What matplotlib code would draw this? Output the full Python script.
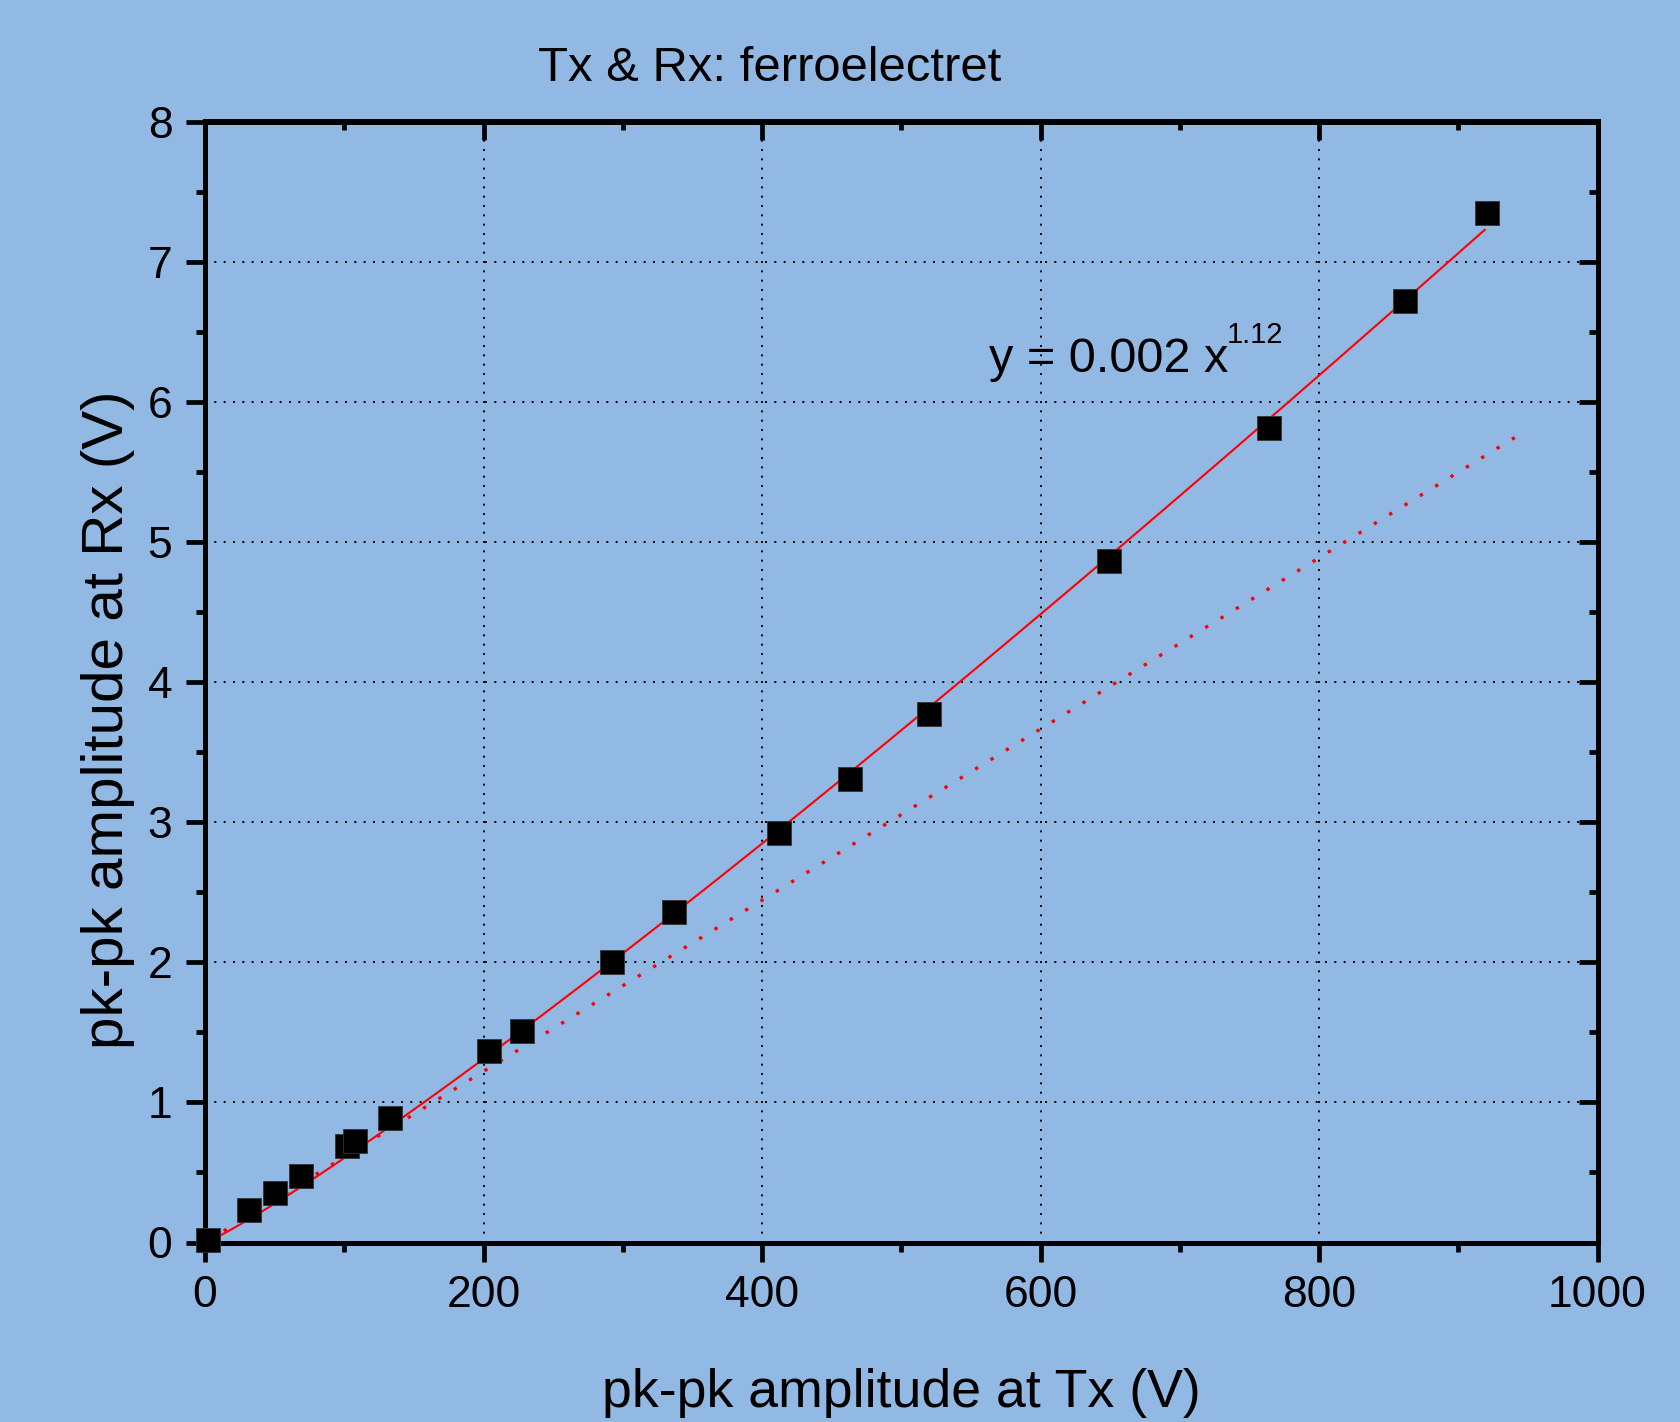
import numpy as np
import matplotlib.pyplot as plt

plt.rcParams['font.family'] = ['Liberation Sans', 'DejaVu Sans']

# data
tx = [2, 31.4, 50.5, 69, 102, 107.7, 132.9, 204, 227.5, 292, 337, 412, 463, 520, 649.5, 764, 862, 921]
rx = [0.02, 0.23, 0.355, 0.475, 0.69, 0.725, 0.89, 1.37, 1.51, 2.00, 2.36, 2.92, 3.31, 3.77, 4.86, 5.81, 6.72, 7.35]

# power law fit, exponent from the label
fit_exp = 1.12
fit_xmin, fit_xmax = 10, 919

# dotted linear reference line ends
lin_x = [2.5, 948]
lin_y = [0.015, 5.79]

x_ticks = [0, 200, 400, 600, 800, 1000]
y_ticks = [0, 1, 2, 3, 4, 5, 6, 7, 8]

bg = '#92b8e4'

fig = plt.figure(figsize=(16.8, 14.22), dpi=100, facecolor=bg)
ax = fig.add_axes([205 / 1680, 1 - 1242.5 / 1422, (1597.5 - 205) / 1680, (1242.5 - 121.5) / 1422])
ax.set_facecolor(bg)

x = np.array(tx)
y = np.array(rx)
a = np.sum(y * x ** fit_exp) / np.sum(x ** (2 * fit_exp))
fx = np.linspace(fit_xmin, fit_xmax, 300)

ax.plot(lin_x, lin_y, color='red', lw=2.4, linestyle=(0, (1, 4.4)), zorder=2)
ax.plot(fx, a * fx ** fit_exp, color='red', lw=1.5, zorder=3)
ax.plot(x, y, 's', color='black', ms=17, mec='#333333', mew=0.6, zorder=4, clip_on=False)

ax.set_xlim(0, 1000)
ax.set_ylim(0, 8)
ax.set_xticks(x_ticks)
ax.set_yticks(y_ticks)
ax.set_xticks(np.arange(100, 1000, 200), minor=True)
ax.set_yticks(np.arange(0.5, 8, 1), minor=True)
ax.tick_params(which='major', direction='out', length=13.5, width=3.4, labelsize=32, pad=10)
ax.tick_params(which='minor', direction='out', length=6.5, width=3.4)
ax.grid(True, which='major', color='black', lw=1.4, linestyle=(0, (1, 3.8)))

for s in ax.spines.values():
    s.set_linewidth(3.6)

top = ax.secondary_xaxis('top')
top.set_xticks(x_ticks)
top.set_xticks(np.arange(100, 1000, 200), minor=True)
top.tick_params(which='major', direction='in', length=13.5, width=3.4, labeltop=False)
top.tick_params(which='minor', direction='in', length=6.5, width=3.4)
top.spines['top'].set_linewidth(3.6)

right = ax.secondary_yaxis('right')
right.set_yticks(y_ticks)
right.set_yticks(np.arange(0.5, 8, 1), minor=True)
right.tick_params(which='major', direction='in', length=13.5, width=3.4, labelright=False)
right.tick_params(which='minor', direction='in', length=6.5, width=3.4)
right.spines['right'].set_linewidth(3.6)

ax.text(563, 6.21, 'y = 0.002 x', fontsize=35, ha='left', va='baseline')
ax.text(734, 6.42, '1.12', fontsize=21, ha='left', va='baseline')

fig.text(538 / 1680, 1 - 81 / 1422, 'Tx & Rx: ferroelectret', fontsize=35.3, ha='left', va='baseline')
fig.text(901 / 1680, 1 - 1407 / 1422, 'pk-pk amplitude at Tx (V)', fontsize=38.6, ha='center', va='baseline')
fig.text(123 / 1680, 1 - 720 / 1422, 'pk-pk amplitude at Rx (V)', fontsize=42, ha='center', va='baseline',
         rotation=90, rotation_mode='anchor')

fig.savefig('out.png', dpi=100, facecolor=bg)
